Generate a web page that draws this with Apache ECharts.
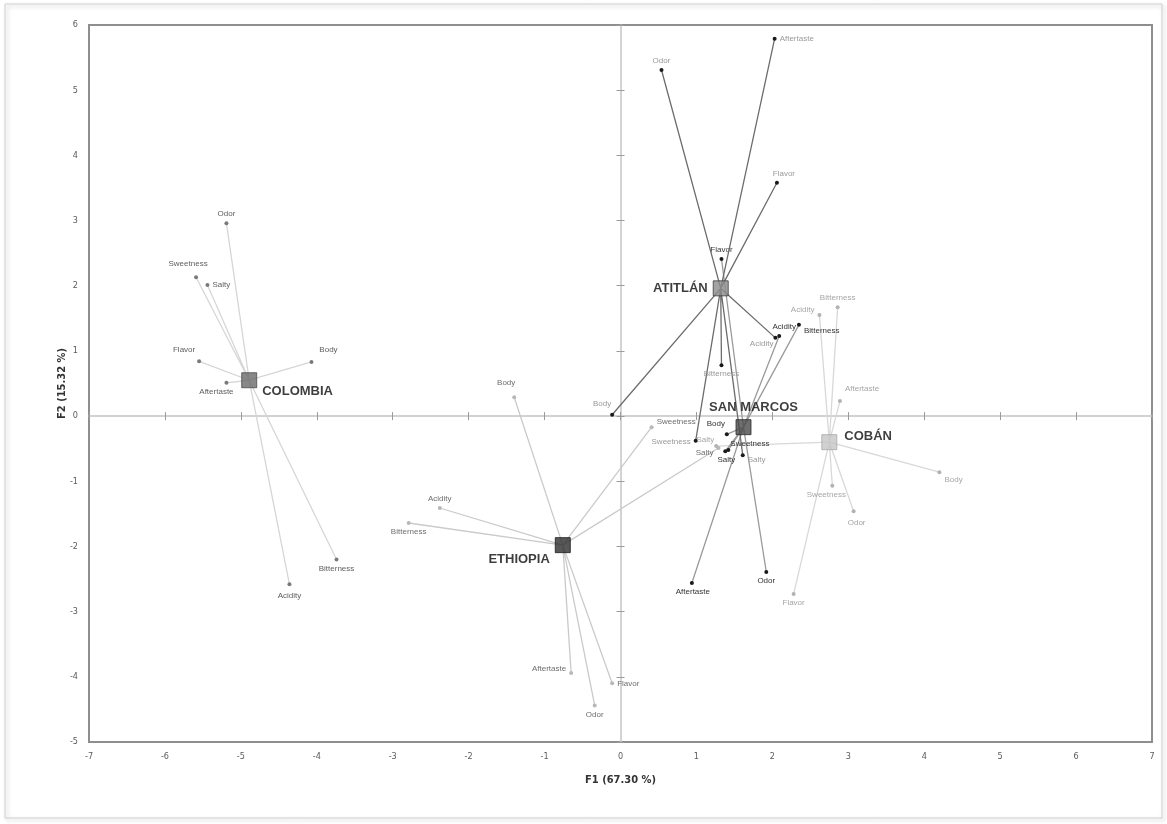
<!DOCTYPE html>
<html>
<head>
<meta charset="utf-8">
<script src="https://cdn.jsdelivr.net/npm/echarts@6/dist/echarts.min.js"></script>
<style>
html,body{margin:0;padding:0;background:#fff;}
#chart{width:1167px;height:824px;}
</style>
</head>
<body>
<div id="chart"></div>
<script>
// ---------------- DATA ----------------
const attributes = ['Odor', 'Sweetness', 'Salty', 'Flavor', 'Body', 'Aftertaste', 'Bitterness', 'Acidity'];
const groupNames = ['COLOMBIA', 'ETHIOPIA', 'ATITLÁN', 'SAN MARCOS', 'COBÁN'];
const groupF1 = [-4.89, -0.76, 1.32, 1.62, 2.75];
const groupF2 = [0.55, -1.98, 1.96, -0.17, -0.40];

const colombiaF1 = [-5.19, -5.59, -5.44, -5.55, -4.07, -5.19, -3.74, -4.36];
const colombiaF2 = [2.96, 2.13, 2.01, 0.84, 0.83, 0.51, -2.20, -2.58];
const ethiopiaF1 = [-0.34, 0.41, 1.29, -0.11, -1.40, -0.65, -2.79, -2.38];
const ethiopiaF2 = [-4.44, -0.17, -0.49, -4.10, 0.29, -3.94, -1.64, -1.41];
const atitlanF1 = [0.54, 0.99, 1.61, 2.06, -0.11, 2.03, 1.33, 2.04];
const atitlanF2 = [5.31, -0.38, -0.60, 3.58, 0.02, 5.79, 0.78, 1.20];
const sanMarcosF1 = [1.92, 1.42, 1.38, 1.33, 1.40, 0.94, 2.35, 2.09];
const sanMarcosF2 = [-2.39, -0.52, -0.54, 2.41, -0.28, -2.56, 1.40, 1.23];
const cobanF1 = [3.07, 2.79, 1.26, 2.28, 4.20, 2.89, 2.86, 2.62];
const cobanF2 = [-1.46, -1.07, -0.46, -2.73, -0.86, 0.23, 1.67, 1.55];

const xTicks = [-7, -6, -5, -4, -3, -2, -1, 0, 1, 2, 3, 4, 5, 6, 7];
const yTicks = [-5, -4, -3, -2, -1, 0, 1, 2, 3, 4, 5, 6];
const xTitle = 'F1 (67.30 %)';
const yTitle = 'F2 (15.32 %)';

// ---------------- STYLE (label placement per attribute) ----------------
const labelPlacement = [
  // COLOMBIA
  [['top',[0,0]],['top',[-8,-4]],['right',[0,0]],['top',[-15,-3]],['top',[17,-3]],['bottom',[-10,0]],['bottom',[0,0]],['bottom',[0,3]]],
  // ETHIOPIA
  [['bottom',[0,0]],['right',[0,-5]],['left',[0,5]],['right',[0,0]],['top',[-8,-5]],['left',[0,-4]],['bottom',[0,0]],['top',[0,0]]],
  // ATITLAN
  [['top',[0,0]],['left',[0,1]],['right',[0,5]],['top',[7,0]],['top',[-10,-2]],['right',[0,0]],['bottom',[0,0]],['left',[3,6]]],
  // SAN MARCOS
  [['bottom',[0,0]],['right',[-3,-6]],['bottom',[1,0]],['top',[0,0]],['top',[-11,-2]],['bottom',[1,0]],['right',[0,6]],['top',[5,0]]],
  // COBAN
  [['bottom',[3,3]],['bottom',[-6,0]],['left',[3,-6]],['bottom',[0,0]],['right',[0,8]],['right',[0,-12]],['top',[0,0]],['left',[0,-5]]]
];
const groupStyles = [
  {sq:'#6a6a6a', sqB:'#4a4a4a', line:'#d6d6d6', pt:'#7a7a7a', lab:'#5e5e5e', gPos:'right', gOff:[0,11], z:2},
  {sq:'#2e2e2e', sqB:'#1a1a1a', line:'#cacaca', pt:'#b8b8b8', lab:'#6e6e6e', gPos:'left', gOff:[0,14], z:3},
  {sq:'#8c8c8c', sqB:'#3c3c3c', line:'#6c6c6c', pt:'#1a1a1a', lab:'#9a9a9a', gPos:'left', gOff:[0,0], z:6},
  {sq:'#4a4a4a', sqB:'#2a2a2a', line:'#9a9a9a', pt:'#1a1a1a', lab:'#333333', gPos:'top', gOff:[10,0], z:5},
  {sq:'#c6c6c6', sqB:'#a8a8a8', line:'#d8d8d8', pt:'#b2b2b2', lab:'#a6a6a6', gPos:'right', gOff:[2,-6], z:1}
];

const pointsF1 = [colombiaF1, ethiopiaF1, atitlanF1, sanMarcosF1, cobanF1];
const pointsF2 = [colombiaF2, ethiopiaF2, atitlanF2, sanMarcosF2, cobanF2];

const labelFont = "'Liberation Sans', Arial, sans-serif";
const narrowFont = "'Liberation Sans Narrow', 'DejaVu Sans Condensed', 'Liberation Sans', sans-serif";

const series = [];
groupNames.forEach((g, gi) => {
  const st = groupStyles[gi];
  const data = [];
  attributes.forEach((a, i) => {
    data.push({value: [groupF1[gi], groupF2[gi]], name: '', symbol: 'none', label: {show: false}});
    const lp = labelPlacement[gi][i];
    data.push({
      value: [pointsF1[gi][i], pointsF2[gi][i]],
      name: a,
      label: {show: true, position: lp[0], offset: lp[1], distance: 3}
    });
  });
  series.push({
    type: 'line',
    name: g + ' lines',
    xAxisIndex: 0, yAxisIndex: 0,
    data: data,
    symbol: 'circle',
    symbolSize: 4,
    showSymbol: true,
    showAllSymbol: true,
    lineStyle: {color: st.line, width: 1.3},
    itemStyle: {color: st.pt},
    label: {show: true, formatter: '{b}', fontSize: 8, color: st.lab, fontFamily: labelFont},
    emphasis: {disabled: true},
    silent: true,
    animation: false,
    z: st.z
  });
});

series.push({
  type: 'scatter',
  name: 'groups',
  xAxisIndex: 0, yAxisIndex: 0,
  symbol: 'rect',
  symbolSize: 15,
  data: groupNames.map((g, gi) => ({
    value: [groupF1[gi], groupF2[gi]],
    name: g,
    itemStyle: {color: groupStyles[gi].sq, borderColor: groupStyles[gi].sqB, borderWidth: 1},
    label: {position: groupStyles[gi].gPos, offset: groupStyles[gi].gOff}
  })),
  label: {show: true, formatter: '{b}', fontSize: 13, fontWeight: 'bold', color: '#0d0d0d', fontFamily: labelFont, distance: 5},
  emphasis: {disabled: true},
  silent: true,
  animation: false,
  z: 10
});

const chart = echarts.init(document.getElementById('chart'), null, {renderer: 'canvas'});

const xMin = xTicks[0], xMax = xTicks[xTicks.length - 1];
const yMin = yTicks[0], yMax = yTicks[yTicks.length - 1];

const zeroLine = {show: true, onZero: true, onZeroAxisIndex: 0, lineStyle: {color: '#c4c4c4', width: 1.5}};

chart.setOption({
  animation: false,
  backgroundColor: '#ffffff',
  graphic: [{
    type: 'rect',
    shape: {x: 5, y: 4, width: 1157, height: 814},
    style: {fill: 'none', stroke: '#cfcfcf', lineWidth: 1, shadowBlur: 4, shadowColor: 'rgba(0,0,0,0.25)', shadowOffsetX: 2, shadowOffsetY: 2},
    z: -10,
    silent: true
  }],
  grid: {left: 89, right: 15, top: 25, bottom: 82, show: true, borderColor: '#8e8e8e', borderWidth: 2, backgroundColor: 'transparent'},
  xAxis: [
    {
      type: 'value', min: xMin, max: xMax, interval: 1, position: 'bottom',
      axisLine: {show: false, onZero: false},
      axisTick: {show: false},
      splitLine: {show: false},
      axisLabel: {fontSize: 9, color: '#5a5a5a', margin: 10, fontFamily: narrowFont},
      name: xTitle, nameLocation: 'middle', nameGap: 33,
      nameTextStyle: {fontSize: 11, fontWeight: 'bold', color: '#333', fontFamily: narrowFont}
    },
    {
      type: 'value', min: xMin, max: xMax, interval: 1, position: 'bottom',
      axisLine: zeroLine,
      axisTick: {show: true, length: 4, inside: false, lineStyle: {color: '#9a9a9a', width: 1}},
      axisLabel: {show: false}, splitLine: {show: false}
    },
    {
      type: 'value', min: xMin, max: xMax, interval: 1, position: 'bottom',
      axisLine: {show: false, onZero: true, onZeroAxisIndex: 0},
      axisTick: {show: true, length: 4, inside: true, lineStyle: {color: '#9a9a9a', width: 1}},
      axisLabel: {show: false}, splitLine: {show: false}
    }
  ],
  yAxis: [
    {
      type: 'value', min: yMin, max: yMax, interval: 1, position: 'left',
      axisLine: {show: false, onZero: false},
      axisTick: {show: false},
      splitLine: {show: false},
      axisLabel: {fontSize: 9, color: '#5a5a5a', margin: 11, fontFamily: narrowFont},
      name: yTitle, nameLocation: 'middle', nameGap: 21, nameRotate: 90, nameMoveOverlap: false,
      nameTextStyle: {fontSize: 11, fontWeight: 'bold', color: '#333', fontFamily: narrowFont}
    },
    {
      type: 'value', min: yMin, max: yMax, interval: 1, position: 'left',
      axisLine: zeroLine,
      axisTick: {show: true, length: 4, inside: false, lineStyle: {color: '#9a9a9a', width: 1}},
      axisLabel: {show: false}, splitLine: {show: false}
    },
    {
      type: 'value', min: yMin, max: yMax, interval: 1, position: 'left',
      axisLine: {show: false, onZero: true, onZeroAxisIndex: 0},
      axisTick: {show: true, length: 4, inside: true, lineStyle: {color: '#9a9a9a', width: 1}},
      axisLabel: {show: false}, splitLine: {show: false}
    }
  ],
  series: series
});
</script>
</body>
</html>
